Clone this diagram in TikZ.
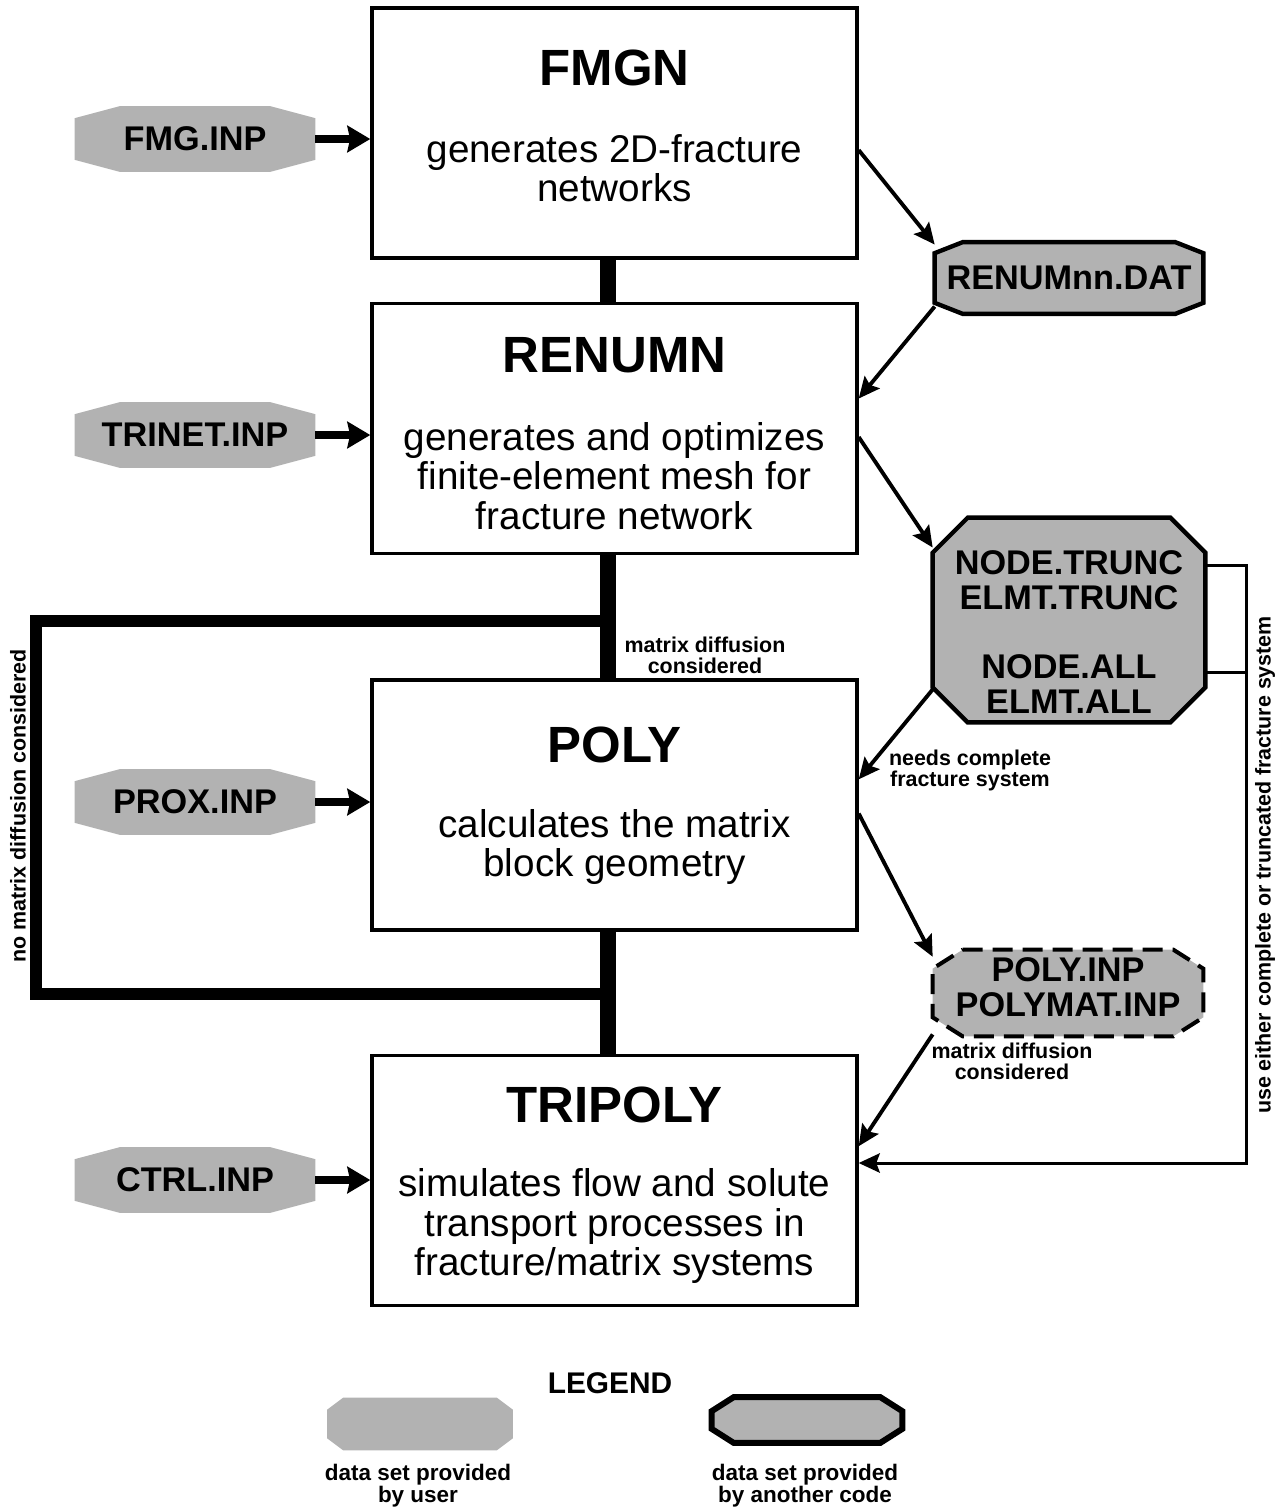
\documentclass[tikz,border=0pt]{standalone}
\usepackage{fontspec}
\setmainfont{Liberation Sans}
\usepackage{tikz}
\usetikzlibrary{arrows.meta}
\usetikzlibrary{calc}
\usetikzlibrary{backgrounds}
\tikzset{
    tnode/.style = {align=center, inner sep=0pt, text centered},
    prog_box/.style = {rectangle, draw=black, line width=2pt, minimum width=9.7cm, minimum height=5cm},
    prog_title/.style = {tnode, font=\fontsize{29}{30}\selectfont\bfseries},
    prog_text/.style = {tnode, font=\fontsize{22}{22.4}\selectfont},
    note/.style = {tnode, font=\fontsize{12.2}{12}\selectfont\bfseries}
}
\tikzset{
    file/.style = {tnode, rectangle, font=\fontsize{19.5}{19.8}\selectfont\bfseries},
    user_fill/.style = {fill=black!30},
    code_fill/.style = {fill=black!30, draw=black, line width=2.5pt, line join=miter},
    spine/.style = {line width=9.6pt},
    bypass/.style = {line width=6.8pt, line join=miter},
    in_arrow/.style = {-{Stealth[length=13pt, width=15pt, inset=1.5pt]}, line width=4.5pt},
    data_arrow/.style = {->, line width=2.2pt},
    side_line/.style = {line width=1.7pt, line join=miter}
}
% octagon round a node: #1 node, #2 chamfer x, #3 chamfer y
\newcommand{\octpath}[3]{($(#1.north west)+(#2,0)$) -- ($(#1.north east)+(-#2,0)$) -- ($(#1.north east)+(0,#3)$) -- ($(#1.south east)+(0,-#3)$) -- ($(#1.south east)+(-#2,0)$) -- ($(#1.south west)+(#2,0)$) -- ($(#1.south west)+(0,-#3)$) -- ($(#1.north west)+(0,#3)$) -- cycle}
\begin{document}
\begin{tikzpicture}[x=0.02cm, y=-0.02cm, >={Stealth[length=12pt, width=11pt, inset=2pt]}]
    \useasboundingbox (0,0) rectangle (1284,1512);
    \coordinate (spine) at (608,0);
    % programs
    \node [prog_box] (fmgn) at (614.5,133) {};
    \node [prog_title] (fmgn_title) at (614.5,68) {FMGN};
    \node [prog_text] (fmgn_text) at (614.5,168) {generates 2D-fracture\\networks};
    \node [prog_box] (renumn) at (614.5,428.5) {};
    \node [prog_title] (renumn_title) at (614.5,355) {RENUMN};
    \node [prog_text] (renumn_text) at (614.5,476) {generates and optimizes\\finite-element mesh for\\fracture network};
    \node [prog_box] (poly) at (614.5,805) {};
    \node [prog_title] (poly_title) at (614.5,745) {POLY};
    \node [prog_text] (poly_text) at (614.5,847) {calculates the matrix\\block geometry};
    \node [prog_box] (tripoly) at (614.5,1180.5) {};
    \node [prog_title] (tripoly_title) at (614.5,1105) {TRIPOLY};
    \node [prog_text] (tripoly_text) at (614.5,1226) {simulates flow and solute\\transport processes in\\fracture/matrix systems};
    % user input
    \node [file, minimum width=4.8cm, minimum height=1.3cm] (fmg_inp) at (195,139) {FMG.INP};
    \node [file, minimum width=4.8cm, minimum height=1.3cm] (trinet_inp) at (195,435) {TRINET.INP};
    \node [file, minimum width=4.8cm, minimum height=1.3cm] (prox_inp) at (195,802) {PROX.INP};
    \node [file, minimum width=4.8cm, minimum height=1.3cm] (ctrl_inp) at (195,1180) {CTRL.INP};
    % data from other codes
    \node [file, minimum width=5.36cm, minimum height=1.42cm] (renum_dat) at (1069,278) {RENUMnn.DAT};
    \node [file, minimum width=5.44cm, minimum height=4.08cm] (trunc_all) at (1069,620) {};
    \node [file] (trunc_all_text) at (1069,632) {NODE.TRUNC\\ELMT.TRUNC\\[19.5pt]NODE.ALL\\ELMT.ALL};
    \node [file, minimum width=5.4cm, minimum height=1.72cm] (poly_inp) at (1068,993) {};
    \node [file] (poly_inp_text) at (1068,987) {POLY.INP\\POLYMAT.INP};
    % legend
    \node [tnode, font=\fontsize{17}{18}\selectfont\bfseries] (legend_title) at (610,1383) {LEGEND};
    \node [file, minimum width=3.7cm, minimum height=1.04cm] (legend_user) at (420,1424) {};
    \node [file, minimum width=3.8cm, minimum height=0.9cm] (legend_code) at (807,1420) {};
    \node [note, font=\fontsize{12.8}{12.5}\selectfont\bfseries] (legend_user_text) at (418,1486) {data set provided\\by user};
    \node [note, font=\fontsize{12.8}{12.5}\selectfont\bfseries] (legend_code_text) at (805,1486) {data set provided\\by another code};
    \begin{scope}[on background layer]
        \path [user_fill] \octpath{fmg_inp}{45}{12};
        \path [user_fill] \octpath{trinet_inp}{45}{12};
        \path [user_fill] \octpath{prox_inp}{45}{12};
        \path [user_fill] \octpath{ctrl_inp}{45}{12};
        \path [user_fill] \octpath{legend_user}{16}{12};
        \path [code_fill] \octpath{renum_dat}{28}{11};
        \path [code_fill] \octpath{trunc_all}{35}{35};
        \path [code_fill, dash pattern=on 0.4cm off 0.2cm, line width=2.3pt] \octpath{poly_inp}{30}{19};
        \path [code_fill, line width=3.4pt] \octpath{legend_code}{22}{14};
    \end{scope}
    % connections
    \draw [spine] (fmgn.south -| spine) -- (renumn.north -| spine);
    \draw [spine] (renumn.south -| spine) -- (poly.north -| spine);
    \draw [spine] (poly.south -| spine) -- (tripoly.north -| spine);
    \coordinate (nomat_top) at (36,621);
    \coordinate (nomat_bot) at (36,994);
    \draw [bypass] (spine |- nomat_top) -- (nomat_top) -- (nomat_bot) -- (spine |- nomat_bot);
    \draw [in_arrow] (fmg_inp.east) -- (fmg_inp.east -| fmgn.west);
    \draw [in_arrow] (trinet_inp.east) -- (trinet_inp.east -| renumn.west);
    \draw [in_arrow] (prox_inp.east) -- (prox_inp.east -| poly.west);
    \draw [in_arrow] (ctrl_inp.east) -- (ctrl_inp.east -| tripoly.west);
    \draw [data_arrow] (fmgn.-4) -- (renum_dat.166);
    \draw [data_arrow] (renum_dat.192) -- (renumn.7);
    \draw [data_arrow] (renumn.-2) -- (trunc_all.152);
    \draw [data_arrow] (trunc_all.207) -- (poly.6);
    \draw [data_arrow] (poly.-2) -- (poly_inp.165);
    \draw [data_arrow] (poly_inp.197) -- (tripoly.8);
    \coordinate (either_top) at (1246,565);
    \coordinate (either_mid) at (1246,672);
    \coordinate (either_bot) at (1246,1163);
    \draw [side_line, ->] (trunc_all.east |- either_top) -- (either_top) -- (either_bot) -- (tripoly.east |- either_bot);
    \draw [side_line] (trunc_all.east |- either_mid) -- (either_mid);
    % notes
    \node [note] (matrix_note) at (705,655) {matrix diffusion\\considered};
    \node [note] (complete_note) at (970,770) {needs complete\\fracture system};
    \node [note] (polyinp_note) at (1012,1061) {matrix diffusion\\considered};
    \node [note, rotate=90] (nomat_note) at (18,806) {no matrix diffusion considered};
    \node [note, rotate=90] (either_note) at (1265,865) {use either complete or truncated fracture system};
\end{tikzpicture}
\end{document}
